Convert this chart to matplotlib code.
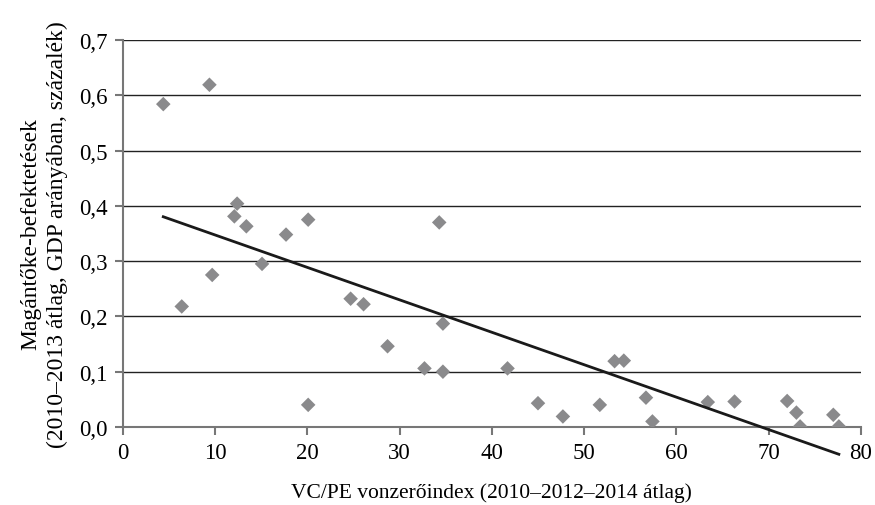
import numpy as np
import matplotlib
matplotlib.use("Agg")
import matplotlib.pyplot as plt
from matplotlib.ticker import FuncFormatter

plt.rcParams['font.family'] = ['Liberation Serif', 'DejaVu Serif']

vc_index = [4.4, 9.4, 12.4, 12.1, 13.4, 17.7, 20.1, 15.1, 6.4, 9.7, 24.7, 26.1, 20.1,
            34.3, 34.7, 28.7, 32.7, 34.7, 41.7, 45.0, 47.7, 51.7, 53.3, 54.3,
            56.7, 57.4, 63.4, 66.3, 72.0, 73.0, 73.4, 77.0, 77.6]
pe_invest = [0.584, 0.619, 0.404, 0.381, 0.363, 0.348, 0.375, 0.295, 0.218, 0.275, 0.232, 0.222, 0.040,
             0.370, 0.187, 0.146, 0.106, 0.100, 0.106, 0.043, 0.019, 0.040, 0.119, 0.120,
             0.053, 0.010, 0.045, 0.046, 0.047, 0.026, 0.001, 0.022, 0.001]

x_ticks = [0, 10, 20, 30, 40, 50, 60, 70, 80]
y_ticks = [0.0, 0.1, 0.2, 0.3, 0.4, 0.5, 0.6, 0.7]

fig = plt.figure(figsize=(8.75, 5.06), dpi=100)
ax = fig.add_axes([0.1402, 0.1542, 0.8438, 0.7648])

ax.scatter(vc_index, pe_invest, marker='D', s=55, color='#8a8a8c', edgecolors='none', zorder=3)

xs = np.array(vc_index)
ys = np.array(pe_invest)
k, b = np.polyfit(xs, ys, 1)
xl = np.array([xs.min(), xs.max()])
ax.plot(xl, k * xl + b, color='#1a1a1a', lw=2.0, zorder=4, clip_on=False)

ax.set_xlim(0, 80)
ax.set_ylim(0, 0.7)
ax.set_xticks(x_ticks)
ax.set_yticks(y_ticks)
ax.yaxis.set_major_formatter(FuncFormatter(lambda v, p: f"{v:.1f}".replace('.', ',')))
ax.grid(axis='y', color='#222222', lw=1.0)
ax.set_axisbelow(True)
for s in ['top', 'right']:
    ax.spines[s].set_visible(False)
for s in ['left', 'bottom']:
    ax.spines[s].set_color('#777777')
    ax.spines[s].set_linewidth(1.5)
ax.tick_params(axis='both', labelsize=16.5, color='#777777', width=1.5, length=6)
ax.tick_params(axis='y', direction='out', pad=5)
ax.tick_params(axis='x', direction='out', pad=5)

ax.set_xlabel('VC/PE vonzerőindex (2010–2012–2014 átlag)', fontsize=15.5, labelpad=14)
ax.set_ylabel('Magántőke-befektetések\n(2010–2013 átlag, GDP arányában, százalék)',
              fontsize=17, labelpad=8, linespacing=1.3)

fig.savefig('out.png', dpi=100)
